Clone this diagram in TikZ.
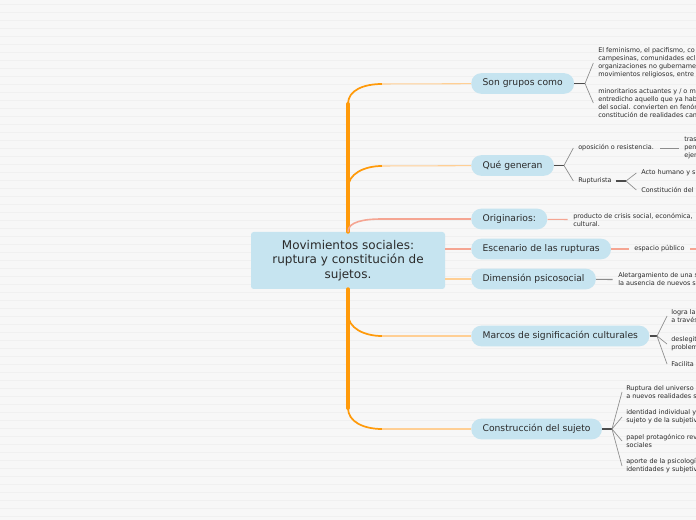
\documentclass[tikz,border=0pt]{standalone}
\usepackage{fontspec}
\setmainfont{DejaVu Sans}
\usetikzlibrary{positioning}
\definecolor{nodeBlue}{HTML}{C6E4F0}
\definecolor{trunkOrange}{HTML}{FF9A0A}
\definecolor{twigOrange}{HTML}{FFCF94}
\definecolor{twigSalmon}{HTML}{F5A592}
\definecolor{inkGray}{HTML}{2A2A2A}
\definecolor{bgGray}{HTML}{F7F7F7}
\definecolor{stripeGray}{HTML}{F0F0F0}

\begin{document}
\begin{tikzpicture}[x=0.75pt, y=-0.75pt,
  rootbox/.style={fill=nodeBlue, rounded corners=2pt, minimum width=145.5pt, minimum height=42.75pt,
    align=center, text=inkGray, inner sep=0pt, font=\fontsize{9}{10.9}\selectfont},
  topic/.style={anchor=west, fill=nodeBlue, rounded corners=7.5pt, minimum height=15.5pt,
    inner xsep=8.5pt, inner ysep=0pt, text=inkGray, font=\fontsize{6.9}{8}\selectfont},
  leaf/.style={anchor=west, inner sep=0pt, align=left, text=inkGray, font=\fontsize{4.85}{6}\selectfont},
  trunk/.style={trunkOrange, line width=3pt, line cap=round},
  bough/.style={trunkOrange, line width=1.3pt},
  twig/.style={twigOrange, line width=0.8pt},
  salmon/.style={twigSalmon, line width=0.8pt},
  stem/.style={black!70, line width=0.9pt},
  fork/.style={black!45, line width=0.5pt}]
  \fill[bgGray] (0,0) rectangle (696,520);
  \useasboundingbox (0,0) rectangle (696,520);
  \clip (0,0) rectangle (696,520);
  \foreach \y in {4,12,...,516} { \draw[stripeGray, line width=0.6pt] (0,\y) -- (696,\y); }

  \node[rootbox] (root) at (348,260.5) {Movimientos sociales:\\ruptura y constitución de\\sujetos.};

  \node[topic] (grupos) at (471,83.5) {Son grupos como};
  \node[topic] (generan) at (471,165.5) {Qué generan};
  \node[topic] (origen) at (471,219) {Originarios:};
  \node[topic] (escenario) at (471,249) {Escenario de las rupturas};
  \node[topic] (dimension) at (471,279) {Dimensión psicosocial};
  \node[topic] (marcos) at (471,336) {Marcos de significación culturales};
  \node[topic] (sujeto) at (471,429) {Construcción del sujeto};

  \coordinate (trunkTop) at (348,104);
  \coordinate (trunkBottom) at (348,408);
  \coordinate (trunkGen) at (348,188);
  \coordinate (trunkMarcos) at (348,314);
  \coordinate (bendGrupos) at (382,84);
  \coordinate (bendGen) at (382,166);
  \coordinate (bendOrigen) at (382,219);
  \coordinate (bendMarcos) at (382,336);
  \coordinate (bendSujeto) at (382,429);

  \draw[trunk] (root.north) -- (trunkTop);
  \draw[trunk] (root.south) -- (trunkBottom);
  \draw[bough] (trunkTop) .. controls +(0,-14) and +(-18,0) .. (bendGrupos);
  \draw[bough] (trunkGen) .. controls +(0,-14) and +(-18,0) .. (bendGen);
  \draw[bough] (trunkMarcos) .. controls +(0,14) and +(-18,0) .. (bendMarcos);
  \draw[bough] (trunkBottom) .. controls +(0,14) and +(-18,0) .. (bendSujeto);
  \draw[twigSalmon, line width=1.2pt] (root.north) .. controls +(0,-10) and +(-18,0) .. (bendOrigen);
  \draw[twig] (bendGrupos) -- (grupos);
  \draw[twig] (bendGen) -- (generan);
  \draw[salmon] (bendOrigen) -- (origen);
  \draw[salmon] (root.east |- escenario) -- (escenario);
  \draw[twig] (root.east |- dimension) -- (dimension);
  \draw[twig] (bendMarcos) -- (marcos);
  \draw[twig] (bendSujeto) -- (sujeto);

  % son grupos como
  \coordinate (forkGrupos) at (585,83.5);
  \node[leaf] (feminismo) at (598,63) {El feminismo, el pacifismo, co\\campesinas, comunidades ecl\\organizaciones no gubername\\movimientos religiosos, entre};
  \node[leaf] (minoritarios) at (598,103) {minoritarios actuantes y / o m\\entredicho aquello que ya hab\\del social. convierten en fenóm\\constitución de realidades can};
  \draw[stem] (grupos) -- (forkGrupos);
  \draw[fork] (forkGrupos) -- ([xshift=-3.5pt]feminismo.west);
  \draw[fork] (forkGrupos) -- ([xshift=-3.5pt]minoritarios.west);

  % que generan
  \coordinate (forkGen) at (564,165.5);
  \node[leaf] (oposicion) at (578,148) {oposición o resistencia.};
  \node[leaf] (rupturista) at (578,181) {Rupturista};
  \node[leaf] (traslado) at (684,148) {tras\\pen\\ejer};
  \node[leaf] (acto) at (641,173) {Acto humano y s};
  \node[leaf] (constitucion) at (641,190) {Constitución del};
  \draw[stem] (generan) -- (forkGen);
  \draw[fork] (forkGen) -- ([xshift=-3.5pt]oposicion.west);
  \draw[fork] (forkGen) -- ([xshift=-3.5pt]rupturista.west);
  \draw[fork] ([xshift=4.5pt]oposicion.east) -- ([xshift=-3.5pt]traslado.west);
  \coordinate (forkRup) at (626,181);
  \draw[stem] ([xshift=3pt]rupturista.east) -- (forkRup);
  \draw[fork] (forkRup) -- ([xshift=-3.5pt]acto.west);
  \draw[fork] (forkRup) -- ([xshift=-3.5pt]constitucion.west);

  % originarios, escenario, dimension
  \node[leaf] (producto) at (573,219.5) {producto de crisis social, económica,\\cultural.};
  \node[leaf] (espacio) at (634,249) {espacio público};
  \node[leaf] (aletargamiento) at (618,279.5) {Aletargamiento de una s\\la ausencia de nuevos s};
  \coordinate (edgeEspacio) at (696,249);
  \draw[salmon] (origen) -- ([xshift=-4pt]producto.west);
  \draw[salmon] (escenario) -- ([xshift=-4pt]espacio.west);
  \draw[salmon] ([xshift=4pt]espacio.east) -- (edgeEspacio);
  \draw[fork, line width=0.8pt] (dimension) -- ([xshift=-4pt]aletargamiento.west);

  % marcos
  \coordinate (forkMarcos) at (657,336);
  \node[leaf] (logra) at (671,316) {logra la\\a través};
  \node[leaf] (deslegit) at (671,344) {deslegit\\problem};
  \node[leaf] (facilita) at (671,364) {Facilita l};
  \draw[stem] (marcos) -- (forkMarcos);
  \foreach \leafname in {logra, deslegit, facilita} { \draw[fork] (forkMarcos) -- ([xshift=-3pt]\leafname.west); }

  % construccion del sujeto
  \coordinate (forkSujeto) at (612,429);
  \node[leaf] (ruptura) at (626,392) {Ruptura del universo\\a nuevos realidades s};
  \node[leaf] (identidad) at (626,417) {identidad individual y\\sujeto y de la subjetiv};
  \node[leaf] (papel) at (626,441) {papel protagónico rev\\sociales};
  \node[leaf] (aporte) at (626,466) {aporte de la psicologí\\identidades y subjetiv};
  \draw[stem] (sujeto) -- (forkSujeto);
  \foreach \leafname in {ruptura, identidad, papel, aporte} { \draw[fork] (forkSujeto) -- ([xshift=-3pt]\leafname.west); }
\end{tikzpicture}
\end{document}
